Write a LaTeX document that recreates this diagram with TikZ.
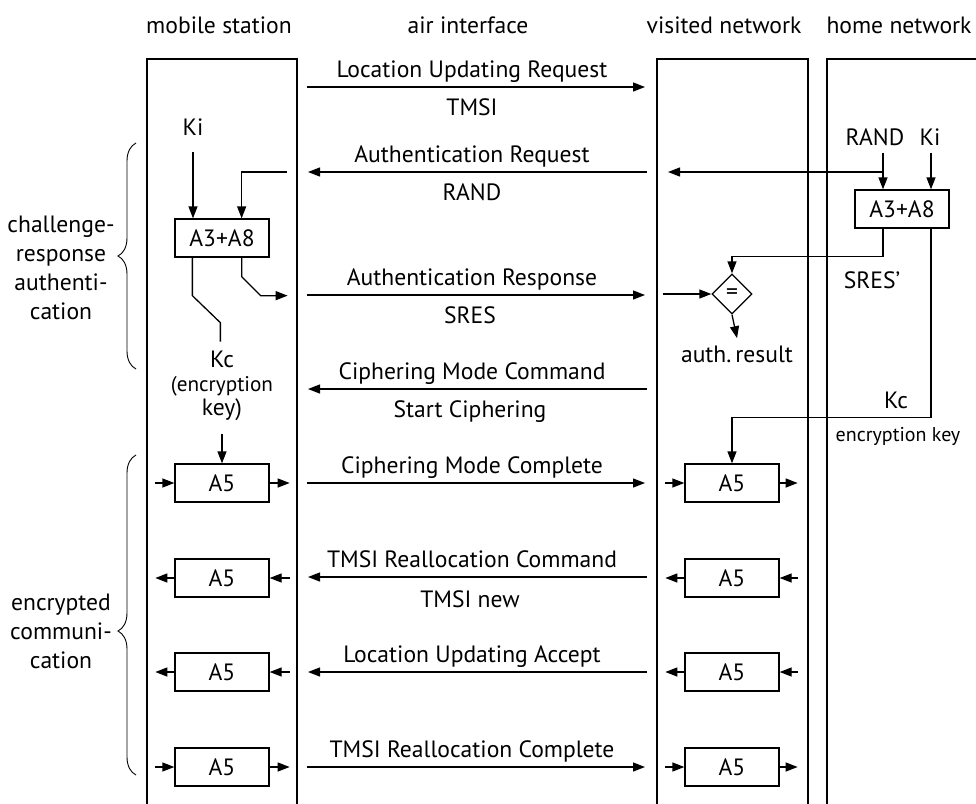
\documentclass[tikz,border=0pt]{standalone}
\usepackage{fontspec}
\setmainfont{PT Sans}
\usetikzlibrary{arrows.meta,shapes.geometric,decorations.pathreplacing}

\tikzset{
  blk/.style={draw,minimum width=47pt,minimum height=19pt,inner sep=0pt},
  tip/.style={-{Triangle[length=6pt,width=4.5pt]}},
  lbl/.style={anchor=base},
  brc/.style={decorate,line width=0.45pt},
}

\begin{document}
\begin{tikzpicture}[x=0.5pt,y=-0.5pt,line width=0.65pt,font=\fontsize{11.8}{14.5}\selectfont]
        \useasboundingbox (0,0) rectangle (976,804);

        \node [lbl] (hms) at (219,33) {mobile station};
        \node [lbl] (hai) at (468,33) {air interface};
        \node [lbl] (hvn) at (724,33) {visited network};
        \node [lbl] (hhn) at (899,33) {home network};

        \draw (147,804) |- (297,59) -- (297,804);
        \draw (657,804) |- (808,59) -- (808,804);
        \draw (827,804) |- (976,59);

        \foreach \i/\y/\xa/\xb/\txt in {1/87/307/645/Location Updating Request,
            2/172/647/308/Authentication Request, 3/295/307/645/Authentication Response,
            4/389/647/308/Ciphering Mode Command, 5/483/307/645/Ciphering Mode Complete,
            6/577/647/308/TMSI Reallocation Command, 7/672/647/308/Location Updating Accept,
            8/767/307/645/TMSI Reallocation Complete}
        {
            \coordinate (ma\i) at (\xa,\y);
            \coordinate (mb\i) at (\xb,\y);
            \draw [tip] (ma\i) -- (mb\i);
            \node [lbl] (mt\i) at (472,\y-10) {\txt};
        }
        \node [lbl] (mp1) at (472,115) {TMSI};
        \node [lbl] (mp2) at (472,200) {RAND};
        \node [lbl] (mp3) at (470,323) {SRES};
        \node [lbl] (mp4) at (470,417) {Start Ciphering};
        \node [lbl] (mp6) at (470,607) {TMSI new};

        % mobile station
        \node [blk] (msa) at (222,238) {A3+A8};
        \node [lbl] (ki1) at (193,135) {Ki};
        \coordinate (ki1a) at (193,152);
        \draw [tip] (ki1a) -- (ki1a |- msa.north);
        \coordinate (rd1) at (287,172);
        \draw [tip] (rd1) -| ([xshift=-14pt]msa.north east);
        \draw ([xshift=9pt]msa.south west) -- ++(0,38) -- ++(28,27) -- ++(0,19);
        \draw [tip] ([xshift=-14pt]msa.south east) -- ++(0,19) -- ++(19,19) -- ++(27,0);
        \node [align=center,font=\fontsize{11.8}{12}\selectfont] (kc1) at (222,386)
            {Kc\\\fontsize{10.6}{12}\selectfont(encryption\\key)};

        \foreach \i/\y in {1/483,2/578,3/672,4/767}
        {
            \node [blk] (msc\i) at (222,\y) {A5};
            \node [blk] (vnc\i) at (732,\y) {A5};
        }
        \draw [tip,shorten <=3pt] (kc1.south) -- (msc1.north);
        \foreach \i in {1,4}
        {
            \draw [tip] ([xshift=-9.5pt]msc\i.west) -- (msc\i.west);
            \draw [tip] (msc\i.east) -- ([xshift=10pt]msc\i.east);
            \draw [tip] ([xshift=-9.5pt]vnc\i.west) -- (vnc\i.west);
            \draw [tip] (vnc\i.east) -- ([xshift=9pt]vnc\i.east);
        }
        \foreach \i in {2,3}
        {
            \draw [tip] (msc\i.west) -- ([xshift=-9.5pt]msc\i.west);
            \draw [tip] ([xshift=10pt]msc\i.east) -- (msc\i.east);
            \draw [tip] (vnc\i.west) -- ([xshift=-9.5pt]vnc\i.west);
            \draw [tip] ([xshift=9pt]vnc\i.east) -- (vnc\i.east);
        }

        % visited network
        \node [diamond,draw,inner sep=0pt,minimum width=20pt,minimum height=20pt] (cmp) at (732,294) {=};
        \coordinate (vin) at (663,294);
        \draw [tip] (vin) -- (cmp.west);
        \node [lbl] (res) at (737,362) {auth.\,result};
        \draw [tip] (cmp.south) -- (res.north);

        % home network
        \node [blk] (hna) at (902,209) {A3+A8};
        \node [lbl] (rnd) at (875,145) {RAND};
        \node [lbl] (ki2) at (930,145) {Ki};
        \coordinate (rnda) at (883,153);
        \coordinate (ki2a) at (931,153);
        \draw [tip] (rnda) -- (rnda |- hna.north);
        \draw [tip] (ki2a) -- (ki2a |- hna.north);
        \coordinate (rbr) at (883,172);
        \coordinate (rnde) at (668,172);
        \draw [tip] (rbr) -- (rnde);
        \draw [tip] (rnda |- hna.south) -- ++(0,28) -| (cmp.north);
        \node [lbl] (sr2) at (872,288) {SRES'};
        \draw [tip] (ki2a |- hna.south) -- ++(0,189) -| (vnc1.north);
        \node [lbl] (kc2) at (896,408) {Kc};
        \node [lbl,font=\fontsize{10}{12}\selectfont] (ek2) at (898,441) {encryption key};

        % phases
        \node [align=center] (cra) at (61,268) {challenge-\\response\\authenti-\\cation};
        \draw [brc,decoration={brace,amplitude=9pt,aspect=0.5}] (136,369) -- (136,143);
        \node [align=center] (enc) at (61,631) {encrypted\\communi-\\cation};
        \draw [brc,decoration={brace,amplitude=9pt,aspect=0.45}] (136,775) -- (136,455);
\end{tikzpicture}
\end{document}
